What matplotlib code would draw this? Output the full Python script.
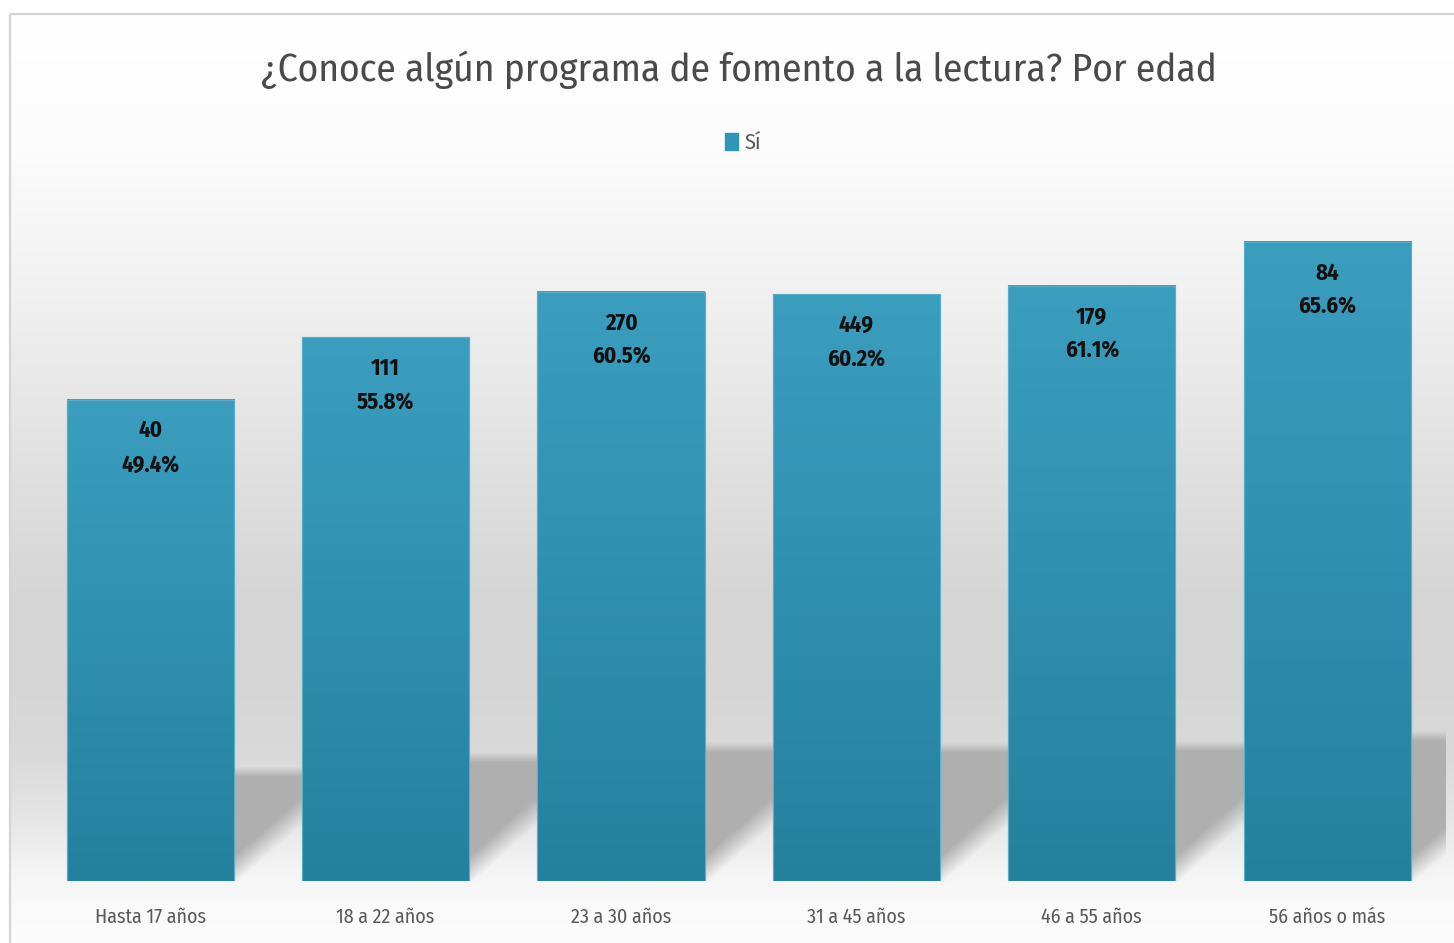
import numpy as np
import matplotlib
matplotlib.use("Agg")
import matplotlib.pyplot as plt
from matplotlib.patches import Rectangle, Patch
from matplotlib.colors import to_rgb

# ---------------- data ----------------
categories = ["Hasta 17 años", "18 a 22 años", "23 a 30 años",
              "31 a 45 años", "46 a 55 años", "56 años o más"]
counts = [40, 111, 270, 449, 179, 84]
percents = [49.4, 55.8, 60.5, 60.2, 61.1, 65.6]
series_name = "Sí"
title = "¿Conoce algún programa de fomento a la lectura? Por edad"

FONT = ["Fira Sans Condensed", "DejaVu Sans"]
plt.rcParams["font.family"] = FONT

W, H = 1454, 943
fig = plt.figure(figsize=(W / 100, H / 100), dpi=100)
fig.patch.set_facecolor("white")

# ---------------- background (chart area gradient + border) ----------------
bg = fig.add_axes([0, 0, 1, 1], zorder=0)
bg.set_xlim(0, W)
bg.set_ylim(H, 0)
bg.axis("off")
stops_y = [13, 150, 300, 450, 600, 700, 760, 820, 870, 905, 943]
stops_c = [255, 252, 240, 226, 213, 214, 218, 230, 244, 250, 252]
rows = np.arange(H)
vals = np.interp(rows, stops_y, stops_c) / 255.0
img = np.ones((H, W, 3))
img[:, :, :] = vals[:, None, None]
img[:14, :, :] = 1.0
img[:, :10, :] = 1.0
bg.imshow(img, extent=[0, W, H, 0], aspect="auto", interpolation="bilinear", zorder=0)
bg.add_patch(Rectangle((9.5, 13.5), W + 20, H + 20, fill=False,
                       edgecolor="#d4d4d4", lw=1.6, zorder=1))

# ---------------- main axes ----------------
ax = fig.add_axes([32.4 / W, (H - 881) / H, (1444.9 - 32.4) / W, (881 - 199) / H], zorder=2)
ax.patch.set_alpha(0)
for s in ax.spines.values():
    s.set_visible(False)
XLIM = (-0.5, len(categories) - 0.5)
YLIM = (0, 70)
ax.set_xlim(*XLIM)
ax.set_ylim(*YLIM)

x = np.arange(len(categories))
bw = 0.71
bars = ax.bar(x, percents, width=bw, color="#3196b5", edgecolor="#5fb2cc",
              linewidth=0.8, zorder=3)

ppx = ax.bbox.width / (XLIM[1] - XLIM[0])
ppy = ax.bbox.height / (YLIM[1] - YLIM[0])

# bar gradient
top_c = np.array(to_rgb("#3b9ebf"))
bot_c = np.array(to_rgb("#24819e"))
for b in bars:
    x0, wdt, hgt = b.get_x(), b.get_width(), b.get_height()
    t = np.linspace(0, 1, 256)[:, None]  # 0 bottom -> 1 top
    grad = bot_c[None, :] * (1 - t) + top_c[None, :] * t
    gimg = np.repeat(grad[:, None, :], 2, axis=1)
    ax.imshow(gimg, extent=[x0, x0 + wdt, 0, hgt], origin="lower",
              aspect="auto", interpolation="bilinear", zorder=3.5)
    ax.add_patch(Rectangle((x0, 0), wdt, hgt, fill=False, edgecolor="#5aaecb",
                           lw=0.8, zorder=3.6))

# perspective shadows (decoration derived from bar geometry)
k = 0.227      # shadow height relative to bar height
shear = 1.13   # horizontal px per vertical px
shadow_gray = 0.69
for b in bars:
    xr = b.get_x() + b.get_width()
    hpx = b.get_height() * ppy * k
    wpx = hpx * shear + 30
    nx, ny = int(wpx) + 1, int(hpx + 20)
    X = np.arange(nx)[None, :] + 0.5
    Y = np.arange(ny)[:, None] + 0.5
    a_top = np.clip((hpx - Y) / 10.0 + 0.5, 0, 1)
    d = (shear * Y - X) / np.sqrt(1 + shear ** 2)
    a_diag = np.clip(d / 22.0 + 0.15, 0, 1)
    alpha = a_top * a_diag
    rgba = np.zeros((ny, nx, 4))
    rgba[..., :3] = shadow_gray
    rgba[..., 3] = alpha
    ax.imshow(rgba, extent=[xr, xr + nx / ppx, 0, ny / ppy], origin="lower",
              aspect="auto", interpolation="bilinear", zorder=2)

# data labels
for b, n, p in zip(bars, counts, percents):
    cx = b.get_x() + b.get_width() / 2
    ax.annotate(f"{n}", (cx, b.get_height()), xytext=(0, -31),
                textcoords="offset pixels", ha="center", va="center",
                fontsize=18, fontweight="bold", color="#111111", zorder=5)
    ax.annotate(f"{p:.1f}%", (cx, b.get_height()), xytext=(0, -65),
                textcoords="offset pixels", ha="center", va="center",
                fontsize=18, fontweight="bold", color="#111111", zorder=5)

ax.set_xticks(x)
ax.set_xticklabels(categories, fontsize=15, color="#595959", fontweight="normal")
ax.tick_params(axis="x", length=0, pad=19)
ax.set_yticks([])
ax.set_xlim(*XLIM)
ax.set_ylim(*YLIM)

# title
ttl = fig.text(738.5 / W, 1 - 70 / H, title, ha="center", va="center",
               fontsize=30, color="#4a4a4a", fontweight="normal")

# legend
leg = fig.legend(handles=[Patch(facecolor="#3196b5", edgecolor="#3196b5")],
                 labels=[series_name], loc="center",
                 bbox_to_anchor=(743 / W, 1 - 143 / H), frameon=False,
                 prop={"size": 16, "weight": "normal"}, handlelength=0.6,
                 handleheight=0.8, handletextpad=0.3, labelcolor="#595959")

# fit text widths to the reference
r = fig.canvas.get_renderer()
tw = ttl.get_window_extent(r).width
ttl.set_fontsize(30 * 957 / tw)
lbl = ax.get_xticklabels()[3]
lw_ = lbl.get_window_extent(r).width
for l in ax.get_xticklabels():
    l.set_fontsize(15 * 99 / lw_)
t0 = ax.texts[1]
pw = t0.get_window_extent(r).width
for t in ax.texts:
    t.set_fontsize(18 * 58 / pw)

fig.savefig("out.png", dpi=100)
